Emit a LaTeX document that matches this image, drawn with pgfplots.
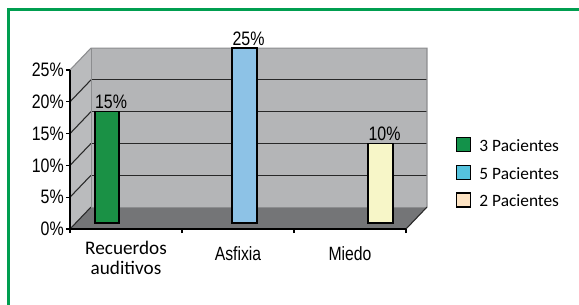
\documentclass[border=0pt]{standalone}
\usepackage{pgfplots}
\pgfplotsset{compat=1.18}
\usepackage{pgfplotstable}
\usepackage{fontspec}
\setmainfont{Liberation Sans}
\newfontfamily\narrow[FakeStretch=0.82]{Liberation Sans}
\newfontfamily\calibri{Carlito}

\definecolor{frame}{RGB}{0,158,80}
\definecolor{wall}{RGB}{180,181,183}
\definecolor{sidewall}{RGB}{186,187,189}
\definecolor{floorc}{RGB}{116,117,119}
\definecolor{edge}{RGB}{140,141,143}
\definecolor{gridc}{RGB}{40,40,40}
\definecolor{barG}{RGB}{26,145,69}
\definecolor{barB}{RGB}{141,194,230}
\definecolor{barY}{RGB}{247,246,200}
\definecolor{legG}{RGB}{19,146,74}
\definecolor{legB}{RGB}{85,195,222}
\definecolor{legY}{RGB}{253,227,195}

% category index, percentage
\pgfplotstableread{
c p
0 15
}\tRecuerdos
\pgfplotstableread{
c p
1 25
}\tAsfixia
\pgfplotstableread{
c p
2 10
}\tMiedo

\begin{document}
\begin{tikzpicture}[x=0.75pt,y=0.75pt]
\useasboundingbox (0,0) rectangle (579,304);
\fill[white] (0,0) rectangle (579,304);
\begin{scope}
\clip (0,0) rectangle (579,304);
\draw[frame, line width=2.3pt] (8.5,-10) -- (8.5,294.5) -- (600,294.5);
\end{scope}
\begin{axis}[
  at={(52.5pt,56.25pt)}, anchor=south west,
  x=84pt, y=4.77pt,
  xmin=-0.5, xmax=2.5, ymin=-0.95, ymax=24.05,
  clip=false, axis on top,
  axis lines*=left,
  axis line style={black, line width=0.8pt},
  tick align=outside, major tick length=3pt,
  tick style={black, line width=0.8pt},
  /pgf/number format/assume math mode=true,
  xtick={-0.5,0.5,1.5,2.5},
  xticklabels={{\calibri Recuerdos\\\calibri auditivos},{\narrow\raisebox{-4pt}[\height][\depth]{Asfixia}},{\narrow\raisebox{-4pt}[\height][\depth]{Miedo}},{}},
  xticklabel style={xshift=42pt, yshift=-3.75pt, align=center, font=\fontsize{14.4}{15}\selectfont, inner sep=2pt},
  ytick={-0.95,4.05,9.05,14.05,19.05,24.05},
  yticklabels={0\%,5\%,10\%,15\%,20\%,25\%},
  yticklabel style={font=\narrow\fontsize{14.6}{16}\selectfont, inner sep=1.5pt},
  nodes near coords={\pgfmathprintnumber{\pgfplotspointmeta}\%},
  every node near coord/.append style={font=\narrow\fontsize{14.6}{16}\selectfont, inner sep=1.5pt, black},
  point meta=explicit,
  legend style={at={(1.137,0.596)}, anchor=north west, draw=none, fill=none,
    font=\calibri\fontsize{13}{15}\selectfont, row sep=7.25pt,
    nodes={inner sep=0pt, text height=9pt, text depth=2.5pt},
    /tikz/every odd column/.append style={column sep=6pt}},
  legend cell align=left,
]
% 3D box: side wall, back wall, floor
\fill[sidewall] (axis cs:-0.5,-0.95) -- (axis cs:-0.5,24.05) -- (axis cs:-0.3125,27.5) -- (axis cs:-0.3125,2.5) -- cycle;
\fill[wall] (axis cs:-0.3125,2.5) rectangle (axis cs:2.6875,27.5);
\fill[floorc] (axis cs:-0.5,-0.95) -- (axis cs:2.5,-0.95) -- (axis cs:2.6875,2.5) -- (axis cs:-0.3125,2.5) -- cycle;
\draw[gridc, line width=0.8pt] (axis cs:-0.3125,7.5) -- (axis cs:2.6875,7.5);
\draw[gridc, line width=0.8pt] (axis cs:-0.3125,12.5) -- (axis cs:2.6875,12.5);
\draw[gridc, line width=0.8pt] (axis cs:-0.3125,17.5) -- (axis cs:2.6875,17.5);
\draw[gridc, line width=0.8pt] (axis cs:-0.3125,22.5) -- (axis cs:2.6875,22.5);
\draw[gridc, line width=0.8pt] (axis cs:-0.5,-0.95) -- (axis cs:-0.3125,2.5);
\draw[gridc, line width=0.8pt] (axis cs:-0.5,4.05) -- (axis cs:-0.3125,7.5);
\draw[gridc, line width=0.8pt] (axis cs:-0.5,9.05) -- (axis cs:-0.3125,12.5);
\draw[gridc, line width=0.8pt] (axis cs:-0.5,14.05) -- (axis cs:-0.3125,17.5);
\draw[gridc, line width=0.8pt] (axis cs:-0.5,19.05) -- (axis cs:-0.3125,22.5);
\draw[edge, line width=0.8pt] (axis cs:-0.5,24.05) -- (axis cs:-0.3125,27.5) -- (axis cs:2.6875,27.5) -- (axis cs:2.6875,2.5);
\draw[edge, line width=0.6pt] (axis cs:-0.3125,27.5) -- (axis cs:-0.3125,2.5) -- (axis cs:2.6875,2.5);
\draw[gridc, line width=0.8pt] (axis cs:2.5,-0.95) -- (axis cs:2.6875,2.5);

\addplot[ybar, bar width=18pt, bar shift=-14.25pt, fill=barG, draw=black, line width=0.9pt,
  every node near coord/.append style={xshift=-11.25pt},
  legend image code/.code={\draw[fill=legG, draw=black, line width=0.9pt] (0pt,-3.25pt) rectangle (10.5pt,7.25pt);}]
  table[x=c, y expr=\thisrow{p}+2.5, meta=p] {\tRecuerdos};
\addlegendentry{3 Pacientes}
\addplot[ybar, bar width=18.75pt, bar shift=4.875pt, fill=barB, draw=black, line width=0.9pt,
  every node near coord/.append style={xshift=7.875pt},
  legend image code/.code={\draw[fill=legB, draw=black, line width=0.9pt] (0pt,-3.25pt) rectangle (10.5pt,7.25pt);}]
  table[x=c, y expr=\thisrow{p}+2.5, meta=p] {\tAsfixia};
\addlegendentry{5 Pacientes}
\addplot[ybar, bar width=18.75pt, bar shift=22.875pt, fill=barY, draw=black, line width=0.9pt,
  every node near coord/.append style={xshift=25.875pt},
  legend image code/.code={\draw[fill=legY, draw=black, line width=0.9pt] (0pt,-3.25pt) rectangle (10.5pt,7.25pt);}]
  table[x=c, y expr=\thisrow{p}+2.5, meta=p] {\tMiedo};
\addlegendentry{2 Pacientes}
\end{axis}
\end{tikzpicture}
\end{document}
